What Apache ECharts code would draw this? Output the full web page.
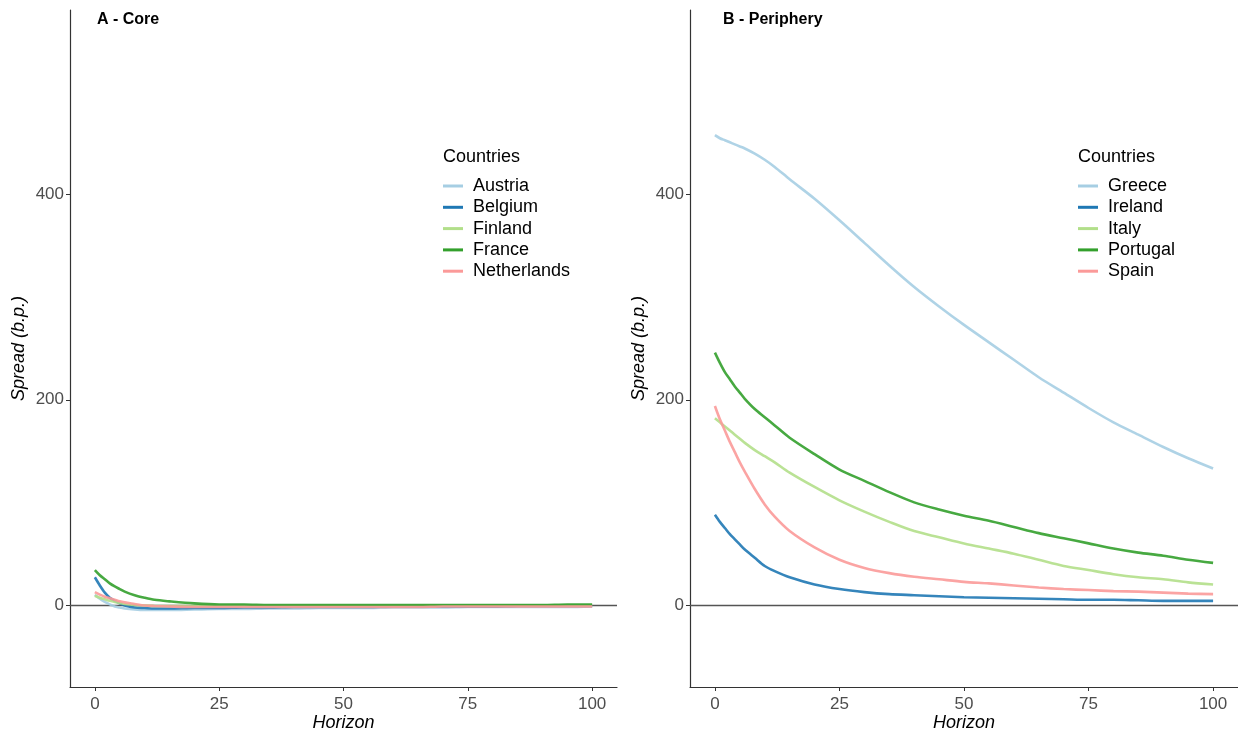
<!DOCTYPE html>
<html>
<head>
<meta charset="utf-8">
<script src="https://cdn.jsdelivr.net/npm/echarts@6/dist/echarts.min.js"></script>
<style>
  html, body { margin: 0; padding: 0; background: #fff; }
  #chart { width: 1238px; height: 732px; }
</style>
</head>
<body>
<div id="chart"></div>
<script>
// horizons (x) shared by every series
var horizon = [0, 1, 2, 3, 4, 5, 6, 8, 10, 12, 15, 20, 25, 30, 35, 40, 45, 50, 55, 60, 65, 70, 75, 80, 85, 90, 95, 100];

// A - Core
var coreNames = ['Austria', 'Belgium', 'Finland', 'France', 'Netherlands'];
var austria     = [10, 6, 3, 0.5, -1.5, -2.5, -3.5, -4.5, -5, -5, -5, -4.5, -4, -4, -3.5, -3.5, -3, -3, -3, -2.5, -2.5, -2.5, -2, -2, -2, -2, -2, -1.5];
var belgium     = [27, 19, 12, 7, 4, 1.5, -0.5, -2.5, -3, -3.5, -3.5, -3, -3, -2.5, -2.5, -2, -2, -2, -2, -1.5, -1.5, -1.5, -1.5, -1.5, -1, -1, -1, -1];
var finland     = [9, 7, 5.5, 4, 3, 2, 1, 0, -0.5, -1, -1, -1, -1, -1, -1, -1, -1, -1, -1, -1, -0.5, -0.5, -0.5, -0.5, -0.5, -0.5, -0.5, -0.5];
var france      = [34, 29, 25, 21, 18, 15.5, 13, 9.5, 7, 5, 3.5, 1.5, 0.5, 0.5, 0, 0, 0, 0, 0, 0, 0, 0, 0, 0, 0, 0, 0.5, 0.5];
var netherlands = [12.5, 10, 8, 6.5, 5, 3.5, 2.5, 1, -0.5, -1, -1.5, -2, -2, -2, -2, -2, -2, -2, -2, -2, -2, -1.5, -1.5, -1.5, -1.5, -1.5, -1.5, -1.5];

// B - Periphery
var periNames = ['Greece', 'Ireland', 'Italy', 'Portugal', 'Spain'];
var greece   = [458, 455, 453, 451, 449, 447, 445, 440, 434, 427, 415, 396, 375, 353, 331, 310, 291, 273, 256, 239, 222, 207, 192, 178, 166, 154, 143, 133];
var ireland  = [88, 81, 75, 69, 64, 59, 54, 46, 38, 33, 27, 20, 15.5, 12.5, 10.5, 9.5, 8.5, 7.5, 7, 6.5, 6, 5.5, 5, 5, 4.5, 4, 4, 4];
var italy    = [182, 178, 174, 170, 166, 162, 158, 151, 145, 139, 129, 115, 102, 91, 81, 72, 66, 60, 55, 50, 44, 38, 34, 30, 27, 25, 22, 20];
var portugal = [246, 236, 227, 220, 213, 207, 201, 191, 183, 175, 163, 147, 132, 121, 110, 100, 93, 87, 82, 76, 70, 65, 60, 55, 51, 48, 44, 41];
var spain    = [194, 181, 170, 159, 149, 139, 130, 113, 98, 86, 72, 56, 44, 36, 31, 27.5, 25, 22.5, 21, 19, 17, 15.5, 14.5, 13.5, 13, 12, 11, 10.5];

var xTicks = [0, 25, 50, 75, 100];
var yTicks = [0, 200, 400];
var palette = ['#A6CEE3', '#1F78B4', '#B2DF8A', '#33A02C', '#FB9A99'];

var font = 'Liberation Sans, Arial, Helvetica, sans-serif';

function pairs(vals) {
  return horizon.map(function (h, i) { return [h, vals[i]]; });
}

function makeX(idx) {
  return {
    gridIndex: idx, type: 'value', min: -5, max: 105,
    name: 'Horizon', nameLocation: 'middle', nameGap: 27, nameMoveOverlap: false,
    nameTextStyle: { fontFamily: font, fontSize: 18, fontStyle: 'italic', color: '#000' },
    axisLine: { show: true, onZero: false, lineStyle: { color: '#333', width: 1.2 } },
    axisTick: { show: true, customValues: xTicks, length: 4, lineStyle: { color: '#333' } },
    axisLabel: { customValues: xTicks, fontFamily: font, fontSize: 17, color: '#4d4d4d', margin: 9 },
    splitLine: { show: false }
  };
}

function makeY(idx) {
  return {
    gridIndex: idx, type: 'value', min: -80, max: 580,
    name: 'Spread (b.p.)', nameLocation: 'middle', nameGap: 42, nameMoveOverlap: false,
    nameTextStyle: { fontFamily: font, fontSize: 18, fontStyle: 'italic', color: '#000' },
    axisLine: { show: true, onZero: false, lineStyle: { color: '#333', width: 1.2 } },
    axisTick: { show: true, customValues: yTicks, length: 4, lineStyle: { color: '#333' } },
    axisLabel: { customValues: yTicks, fontFamily: font, fontSize: 17, color: '#4d4d4d', margin: 6 },
    splitLine: { show: false }
  };
}

function makeSeries(name, vals, color, idx, first) {
  var s = {
    name: name, type: 'line', xAxisIndex: idx, yAxisIndex: idx,
    data: pairs(vals), smooth: 0.3, showSymbol: false,
    lineStyle: { width: 2.6, color: color, opacity: 0.9 },
    itemStyle: { color: color }, emphasis: { disabled: true }, z: 3
  };
  if (first) {
    // horizontal zero line across the panel
    s.markLine = {
      silent: true, symbol: 'none', label: { show: false },
      lineStyle: { color: '#555', width: 1.4, type: 'solid' },
      data: [{ yAxis: 0 }], z: 1
    };
  }
  return s;
}

var coreVals = [austria, belgium, finland, france, netherlands];
var periVals = [greece, ireland, italy, portugal, spain];
var series = [];
coreNames.forEach(function (n, i) { series.push(makeSeries(n, coreVals[i], palette[i], 0, i === 0)); });
periNames.forEach(function (n, i) { series.push(makeSeries(n, periVals[i], palette[i], 1, i === 0)); });

function makeLegend(names, left) {
  return {
    data: names, orient: 'vertical', left: left, top: 177, padding: 0,
    icon: 'rect', itemWidth: 20, itemHeight: 3, itemGap: 3.3,
    textStyle: { fontFamily: font, fontSize: 18, lineHeight: 18, color: '#000', padding: [0, 0, 0, 5] },
    selectedMode: false
  };
}

var myChart = echarts.init(document.getElementById('chart'));
var option = {
  backgroundColor: '#fff',
  animation: false,
  title: [
    { text: 'A - Core', left: 92, top: 7, textStyle: { fontFamily: font, fontSize: 16, fontWeight: 'bold', color: '#000' } },
    { text: 'B - Periphery', left: 718, top: 7, textStyle: { fontFamily: font, fontSize: 16, fontWeight: 'bold', color: '#000' } },
    { text: 'Countries', left: 438, top: 143, textStyle: { fontFamily: font, fontSize: 18, fontWeight: 'normal', color: '#000' } },
    { text: 'Countries', left: 1073, top: 143, textStyle: { fontFamily: font, fontSize: 18, fontWeight: 'normal', color: '#000' } }
  ],
  legend: [makeLegend(coreNames, 443), makeLegend(periNames, 1078)],
  grid: [
    { left: 70, top: 10, width: 547, height: 677, outerBoundsMode: 'none' },
    { left: 690, top: 10, width: 548, height: 677, outerBoundsMode: 'none' }
  ],
  xAxis: [makeX(0), makeX(1)],
  yAxis: [makeY(0), makeY(1)],
  series: series
};
myChart.setOption(option);
</script>
</body>
</html>
